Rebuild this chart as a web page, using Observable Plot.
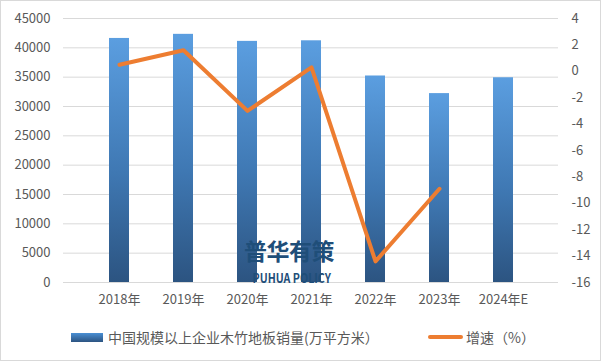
<!DOCTYPE html>
<html><head><meta charset="utf-8">
<script src="https://cdn.jsdelivr.net/npm/d3@7"></script>
<script src="https://cdn.jsdelivr.net/npm/@observablehq/plot@0.6"></script>
<style>
body{margin:0;background:#fff;}
#wrap{position:relative;width:601px;height:361px;box-sizing:border-box;border:1px solid #d9d9d9;background:#fff;font-family:"Noto Sans CJK SC","Noto Sans",sans-serif;overflow:hidden;}
#legend{position:absolute;left:0;top:326px;width:100%;height:20px;font-size:14px;color:#595959;}
.lg{position:absolute;top:0;line-height:20px;white-space:nowrap;}
.wm{position:absolute;left:243px;width:90px;text-align:center;color:#1f4e79;font-weight:bold;pointer-events:none;white-space:nowrap;}
</style></head>
<body>
<div id="wrap">
  <div id="chart"></div>
  <div id="legend"></div>
  <div class="wm" style="top:233px;font-size:23px;line-height:32px;letter-spacing:-0.5px;">普华有策</div>
  <div class="wm" style="top:269px;font-size:13px;line-height:15px;"><span style="display:inline-block;transform:scaleX(0.82);">PUHUA POLICY</span></div>
</div>
<script>
const years = ["2018年","2019年","2020年","2021年","2022年","2023年","2024年E"];
const sales = [41600, 42300, 41100, 41200, 35200, 32200, 34900];
const growth = [0.5, 1.6, -3.0, 0.3, -14.4, -8.9, null];
const leftTicks = [0,5000,10000,15000,20000,25000,30000,35000,40000,45000];
const rightTicks = [-16,-14,-12,-10,-8,-6,-4,-2,0,2,4];
const seriesNames = ["中国规模以上企业木竹地板销量(万平方米）","增速（%）"];

const yMax = 45000, gMin = -16, gMax = 4;
const g2y = g => (g - gMin) / (gMax - gMin) * yMax;
const y2g = v => v / yMax * (gMax - gMin) + gMin;

const barData = years.map((y,i)=>({year:y, value:sales[i]}));
const lineData = years.map((y,i)=>({year:y, g:growth[i]})).filter(d=>d.g!=null);

const defs = () => {
  const d = d3.create("svg:defs");
  const lg = d.append("linearGradient").attr("id","barGrad").attr("x1",0).attr("y1",0).attr("x2",0).attr("y2",1);
  lg.append("stop").attr("offset","0%").attr("stop-color","#5b9ee0");
  lg.append("stop").attr("offset","55%").attr("stop-color","#3f78b3");
  lg.append("stop").attr("offset","100%").attr("stop-color","#2c5481");
  return d.node();
};

const chart = Plot.plot({
  width: 599, height: 318,
  marginLeft: 62, marginRight: 42, marginTop: 17, marginBottom: 37,
  style: {fontFamily: '"Noto Sans CJK SC","Noto Sans",sans-serif', fontSize: "13px", color: "#595959", background: "transparent"},
  x: {domain: years, padding: 0.69, label: null},
  y: {domain: [0, yMax], label: null},
  marks: [
    defs,
    Plot.ruleY(leftTicks, {stroke: "#d9d9d9", strokeWidth: 1}),
    Plot.barY(barData, {x: "year", y: "value", fill: "url(#barGrad)"}),
    Plot.lineY(lineData, {x: "year", y: d => g2y(d.g), stroke: "#ed7d31", strokeWidth: 4, strokeLinejoin: "round", strokeLinecap: "round"}),
    Plot.axisY({ticks: leftTicks, tickFormat: v => String(v), tickSize: 0, tickPadding: 13, label: null, fill: "#595959"}),
    Plot.axisY({anchor: "right", ticks: rightTicks.map(g2y), tickFormat: v => String(Math.round(y2g(v))), tickSize: 0, tickPadding: 13, label: null, fill: "#595959", textAnchor: "start"}),
    Plot.axisX({tickSize: 0, tickPadding: 12, label: null, fill: "#595959"})
  ]
});
document.getElementById("chart").appendChild(chart);

const legend = document.getElementById("legend");
legend.innerHTML = `
  <div class="lg" style="left:70px;top:6px;width:32px;height:9px;background:linear-gradient(#4a8fd4,#2c5481);"></div>
  <div class="lg" style="left:107px;">${seriesNames[0]}</div>
  <div class="lg" style="left:427px;top:8px;width:35px;height:4px;border-radius:2px;background:#ed7d31;"></div>
  <div class="lg" style="left:465px;">${seriesNames[1]}</div>`;
</script>
</body></html>
